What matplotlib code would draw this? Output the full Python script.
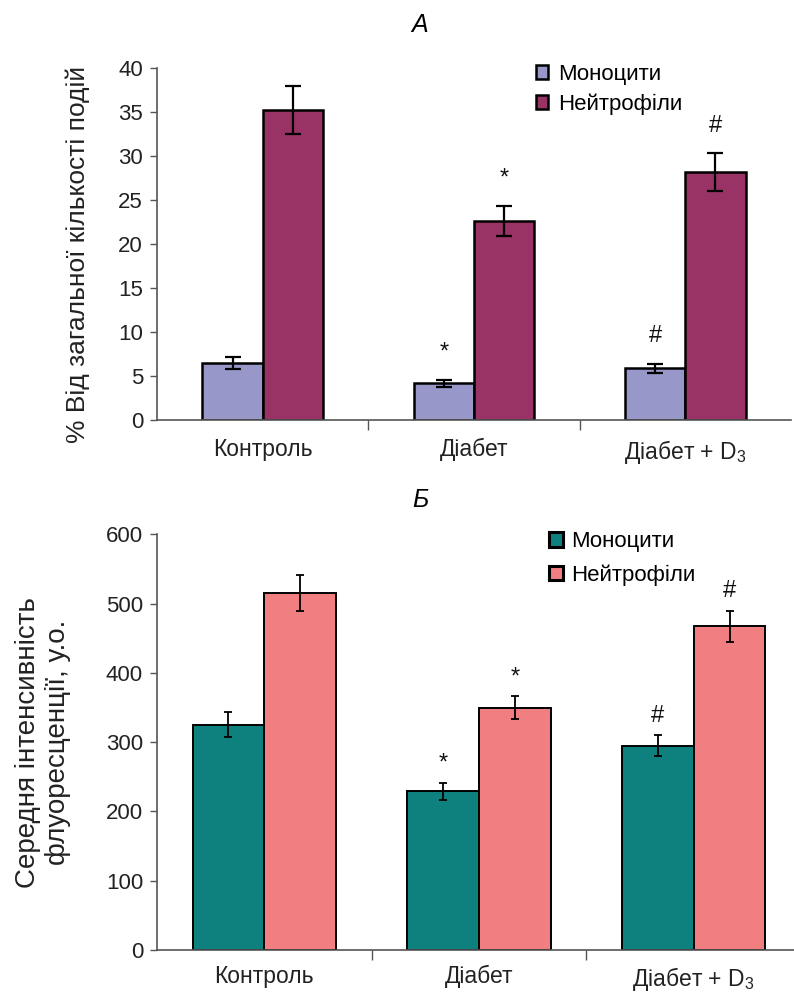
import matplotlib
matplotlib.use("Agg")
import matplotlib.pyplot as plt
import numpy as np

plt.rcParams['font.family'] = ['Liberation Sans', 'DejaVu Sans']
plt.rcParams['mathtext.fontset'] = 'custom'
plt.rcParams['mathtext.rm'] = 'Liberation Sans'
plt.rcParams['mathtext.it'] = 'Liberation Sans:italic'

categories = ['Контроль', 'Діабет', 'Діабет + D$_3$']
series_names = ['Моноцити', 'Нейтрофіли']

# Panel A: % of total events
a_mono = [6.45, 4.1, 5.8]
a_mono_err = [0.66, 0.35, 0.5]
a_neut = [35.2, 22.6, 28.1]
a_neut_err = [2.7, 1.7, 2.15]
a_mono_marks = ['', '*', '#']
a_neut_marks = ['', '*', '#']

# Panel B: mean fluorescence intensity
b_mono = [325, 229, 295]
b_mono_err = [18, 12, 15]
b_neut = [515, 350, 467]
b_neut_err = [26, 16, 23]
b_mono_marks = ['', '*', '#']
b_neut_marks = ['', '*', '#']

W, H = 794, 992
fig = plt.figure(figsize=(W/100, H/100), dpi=100)

def px_axes(x0, y_top, x1, y_bot):
    return fig.add_axes([x0/W, 1 - y_bot/H, (x1 - x0)/W, (y_bot - y_top)/H])

def draw_panel(ax, mono, mono_err, neut, neut_err, mono_marks, neut_marks,
               colors, bw, lw, elw, cap, ylim, yticks, ylabel, ylabel_size, ylabel_pad,
               ylabel_y, xmax, mark_gap, xlabel_pad, legend_anchor, handle_lw, hsize,
               htpad, lspace):
    x = np.arange(len(categories))
    ax.bar(x - bw/2, mono, bw, color=colors[0], edgecolor='black', linewidth=lw,
           label=series_names[0], zorder=2)
    ax.bar(x + bw/2, neut, bw, color=colors[1], edgecolor='black', linewidth=lw,
           label=series_names[1], zorder=2)
    ax.errorbar(x - bw/2, mono, yerr=mono_err, fmt='none', ecolor='black',
                elinewidth=elw, capsize=cap, capthick=elw, zorder=3)
    ax.errorbar(x + bw/2, neut, yerr=neut_err, fmt='none', ecolor='black',
                elinewidth=elw, capsize=cap, capthick=elw, zorder=3)
    for xs, vals, errs, marks in ((x - bw/2, mono, mono_err, mono_marks),
                                  (x + bw/2, neut, neut_err, neut_marks)):
        for xi, v, e, m in zip(xs, vals, errs, marks):
            if m:
                ax.annotate(m, (xi, v + e), xytext=(0, mark_gap), textcoords='offset points',
                            ha='center', va='bottom', fontsize=17, color='#111111')
    ax.set_xlim(-0.5, xmax)
    ax.set_ylim(*ylim)
    ax.set_yticks(yticks)
    ax.tick_params(axis='y', direction='out', length=5, width=1, colors='#555555',
                   labelcolor='#222222', labelsize=16, pad=5)
    ax.set_xticks([0.5, 1.5], minor=False)
    ax.set_xticklabels([])
    ax.tick_params(axis='x', which='major', direction='out', length=7, width=1, colors='#555555')
    ax.set_xticks(x, minor=True)
    ax.set_xticklabels(categories, minor=True)
    ax.tick_params(axis='x', which='minor', length=0, labelsize=16.5, pad=xlabel_pad,
                   labelcolor='#222222')
    for s in ['top', 'right']:
        ax.spines[s].set_visible(False)
    for s in ['left', 'bottom']:
        ax.spines[s].set_color('#555555')
        ax.spines[s].set_linewidth(1.2)
    ax.set_ylabel(ylabel, fontsize=ylabel_size, color='#222222', labelpad=ylabel_pad)
    ax.yaxis.label.set_y(ylabel_y)
    leg = fig.legend(*ax.get_legend_handles_labels(), loc='upper left',
                     bbox_to_anchor=(legend_anchor[0]/W, 1 - legend_anchor[1]/H),
                     frameon=False, fontsize=16, handlelength=hsize, handleheight=hsize,
                     handletextpad=htpad, labelspacing=lspace, borderpad=0, borderaxespad=0)
    for hnd in leg.legend_handles:
        hnd.set_linewidth(handle_lw)

axA = px_axes(157, 67.7, 791, 419.5)
draw_panel(axA, a_mono, a_mono_err, a_neut, a_neut_err, a_mono_marks, a_neut_marks,
           ['#9797C9', '#993366'], 0.285, 1.8, 1.6, 5.5, (0, 40), np.arange(0, 41, 5),
           '% Від загальної кількості подій', 19, 20, 0.47, 2.5, 12, 13,
           (536, 64), 1.8, 0.55, 0.45, 0.38)
fig.text(420/W, 1 - 25/H, 'А', fontsize=18, style='italic', ha='center', va='center')

axB = px_axes(157, 534.3, 794, 950)
draw_panel(axB, b_mono, b_mono_err, b_neut, b_neut_err, b_mono_marks, b_neut_marks,
           ['#0E817E', '#F17F82'], 0.334, 1.4, 1.3, 3, (0, 600), np.arange(0, 601, 100),
           'Середня інтенсивність\nфлуоресценції, у.о.', 20, 25, 0.5, 2.467, 6, 11,
           (549, 531), 2.2, 0.64, 0.36, 0.55)
fig.text(420/W, 1 - 500/H, 'Б', fontsize=18, style='italic', ha='center', va='center')

fig.savefig('out.png', dpi=100)
